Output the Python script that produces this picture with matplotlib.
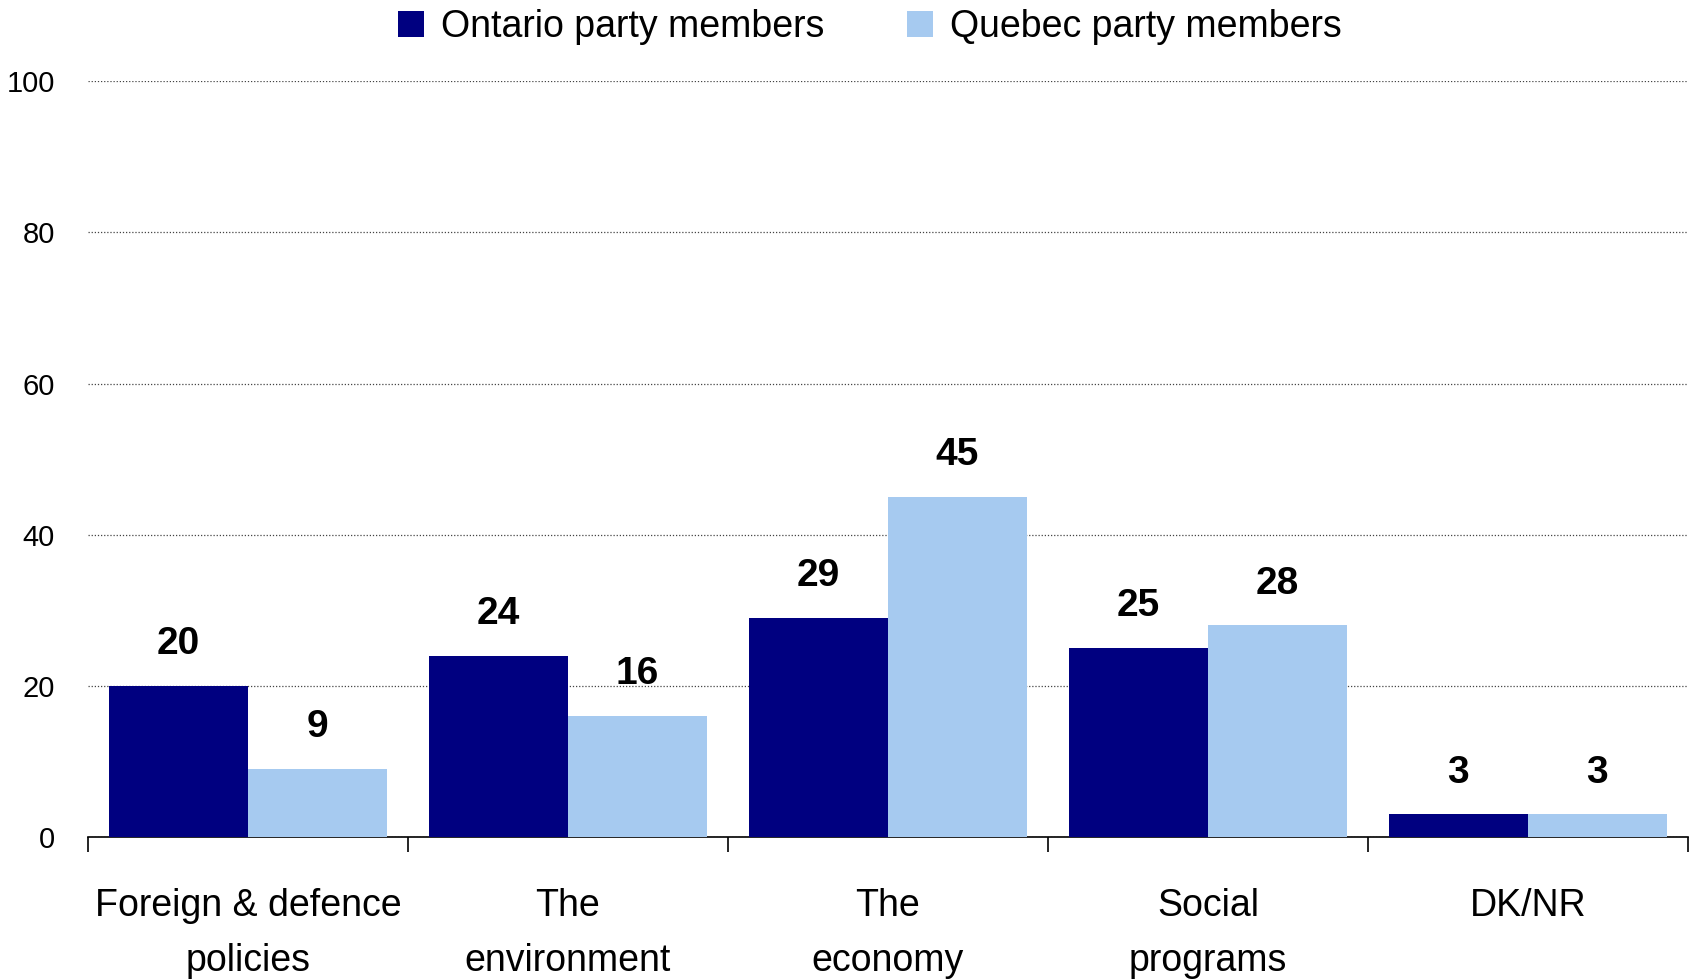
import numpy as np
import matplotlib
matplotlib.use('Agg')
import matplotlib.pyplot as plt

categories = ['Foreign & defence\npolicies', 'The\nenvironment', 'The\neconomy',
              'Social\nprograms', 'DK/NR']
ontario = [20, 24, 29, 25, 3]
quebec = [9, 16, 45, 28, 3]
series_names = ['Ontario party members', 'Quebec party members']
yticks = [0, 20, 40, 60, 80, 100]

c_on = '#000080'
c_qc = '#A6CAF0'

plt.rcParams['font.family'] = ['Liberation Sans', 'DejaVu Sans']

fig = plt.figure(figsize=(16.92, 9.8), dpi=100)
ax = fig.add_axes([0.052, 0.146, 0.9455, 0.771])

x = np.arange(len(categories)) + 0.5
w = 0.435
b1 = ax.bar(x - w/2, ontario, w, color=c_on, label=series_names[0], zorder=3)
b2 = ax.bar(x + w/2, quebec, w, color=c_qc, label=series_names[1], zorder=3)

for bars, vals in ((b1, ontario), (b2, quebec)):
    for r, v in zip(bars, vals):
        ax.annotate(str(v), (r.get_x() + r.get_width()/2, v), xytext=(0, 17),
                    textcoords='offset points', ha='center', va='bottom',
                    fontsize=28, fontweight='bold')

ax.set_xlim(0, 5)
ax.set_ylim(0, 100)
ax.set_yticks(yticks)
ax.set_yticklabels([str(t) for t in yticks], fontsize=21)
ax.tick_params(axis='y', length=0, pad=24)
ax.yaxis.grid(True, linestyle=(0, (1, 1.5)), color='#444444', linewidth=0.9, zorder=0)

ax.set_xticks(np.arange(6))
ax.set_xticklabels([])
ax.tick_params(axis='x', which='major', length=11, width=1.2, direction='out')
ax.set_xticks(x, minor=True)
ax.set_xticklabels(categories, minor=True, fontsize=27, linespacing=1.68)
ax.tick_params(axis='x', which='minor', length=0, pad=37)

for s in ('left', 'right', 'top'):
    ax.spines[s].set_visible(False)
ax.spines['bottom'].set_linewidth(1.2)

fig.legend(loc='center', bbox_to_anchor=(0.514, 0.972), ncol=2, frameon=False,
           fontsize=27, handlelength=0.7, handleheight=0.7, handletextpad=0.45,
           columnspacing=2.2)

fig.savefig('out.png', dpi=100)
